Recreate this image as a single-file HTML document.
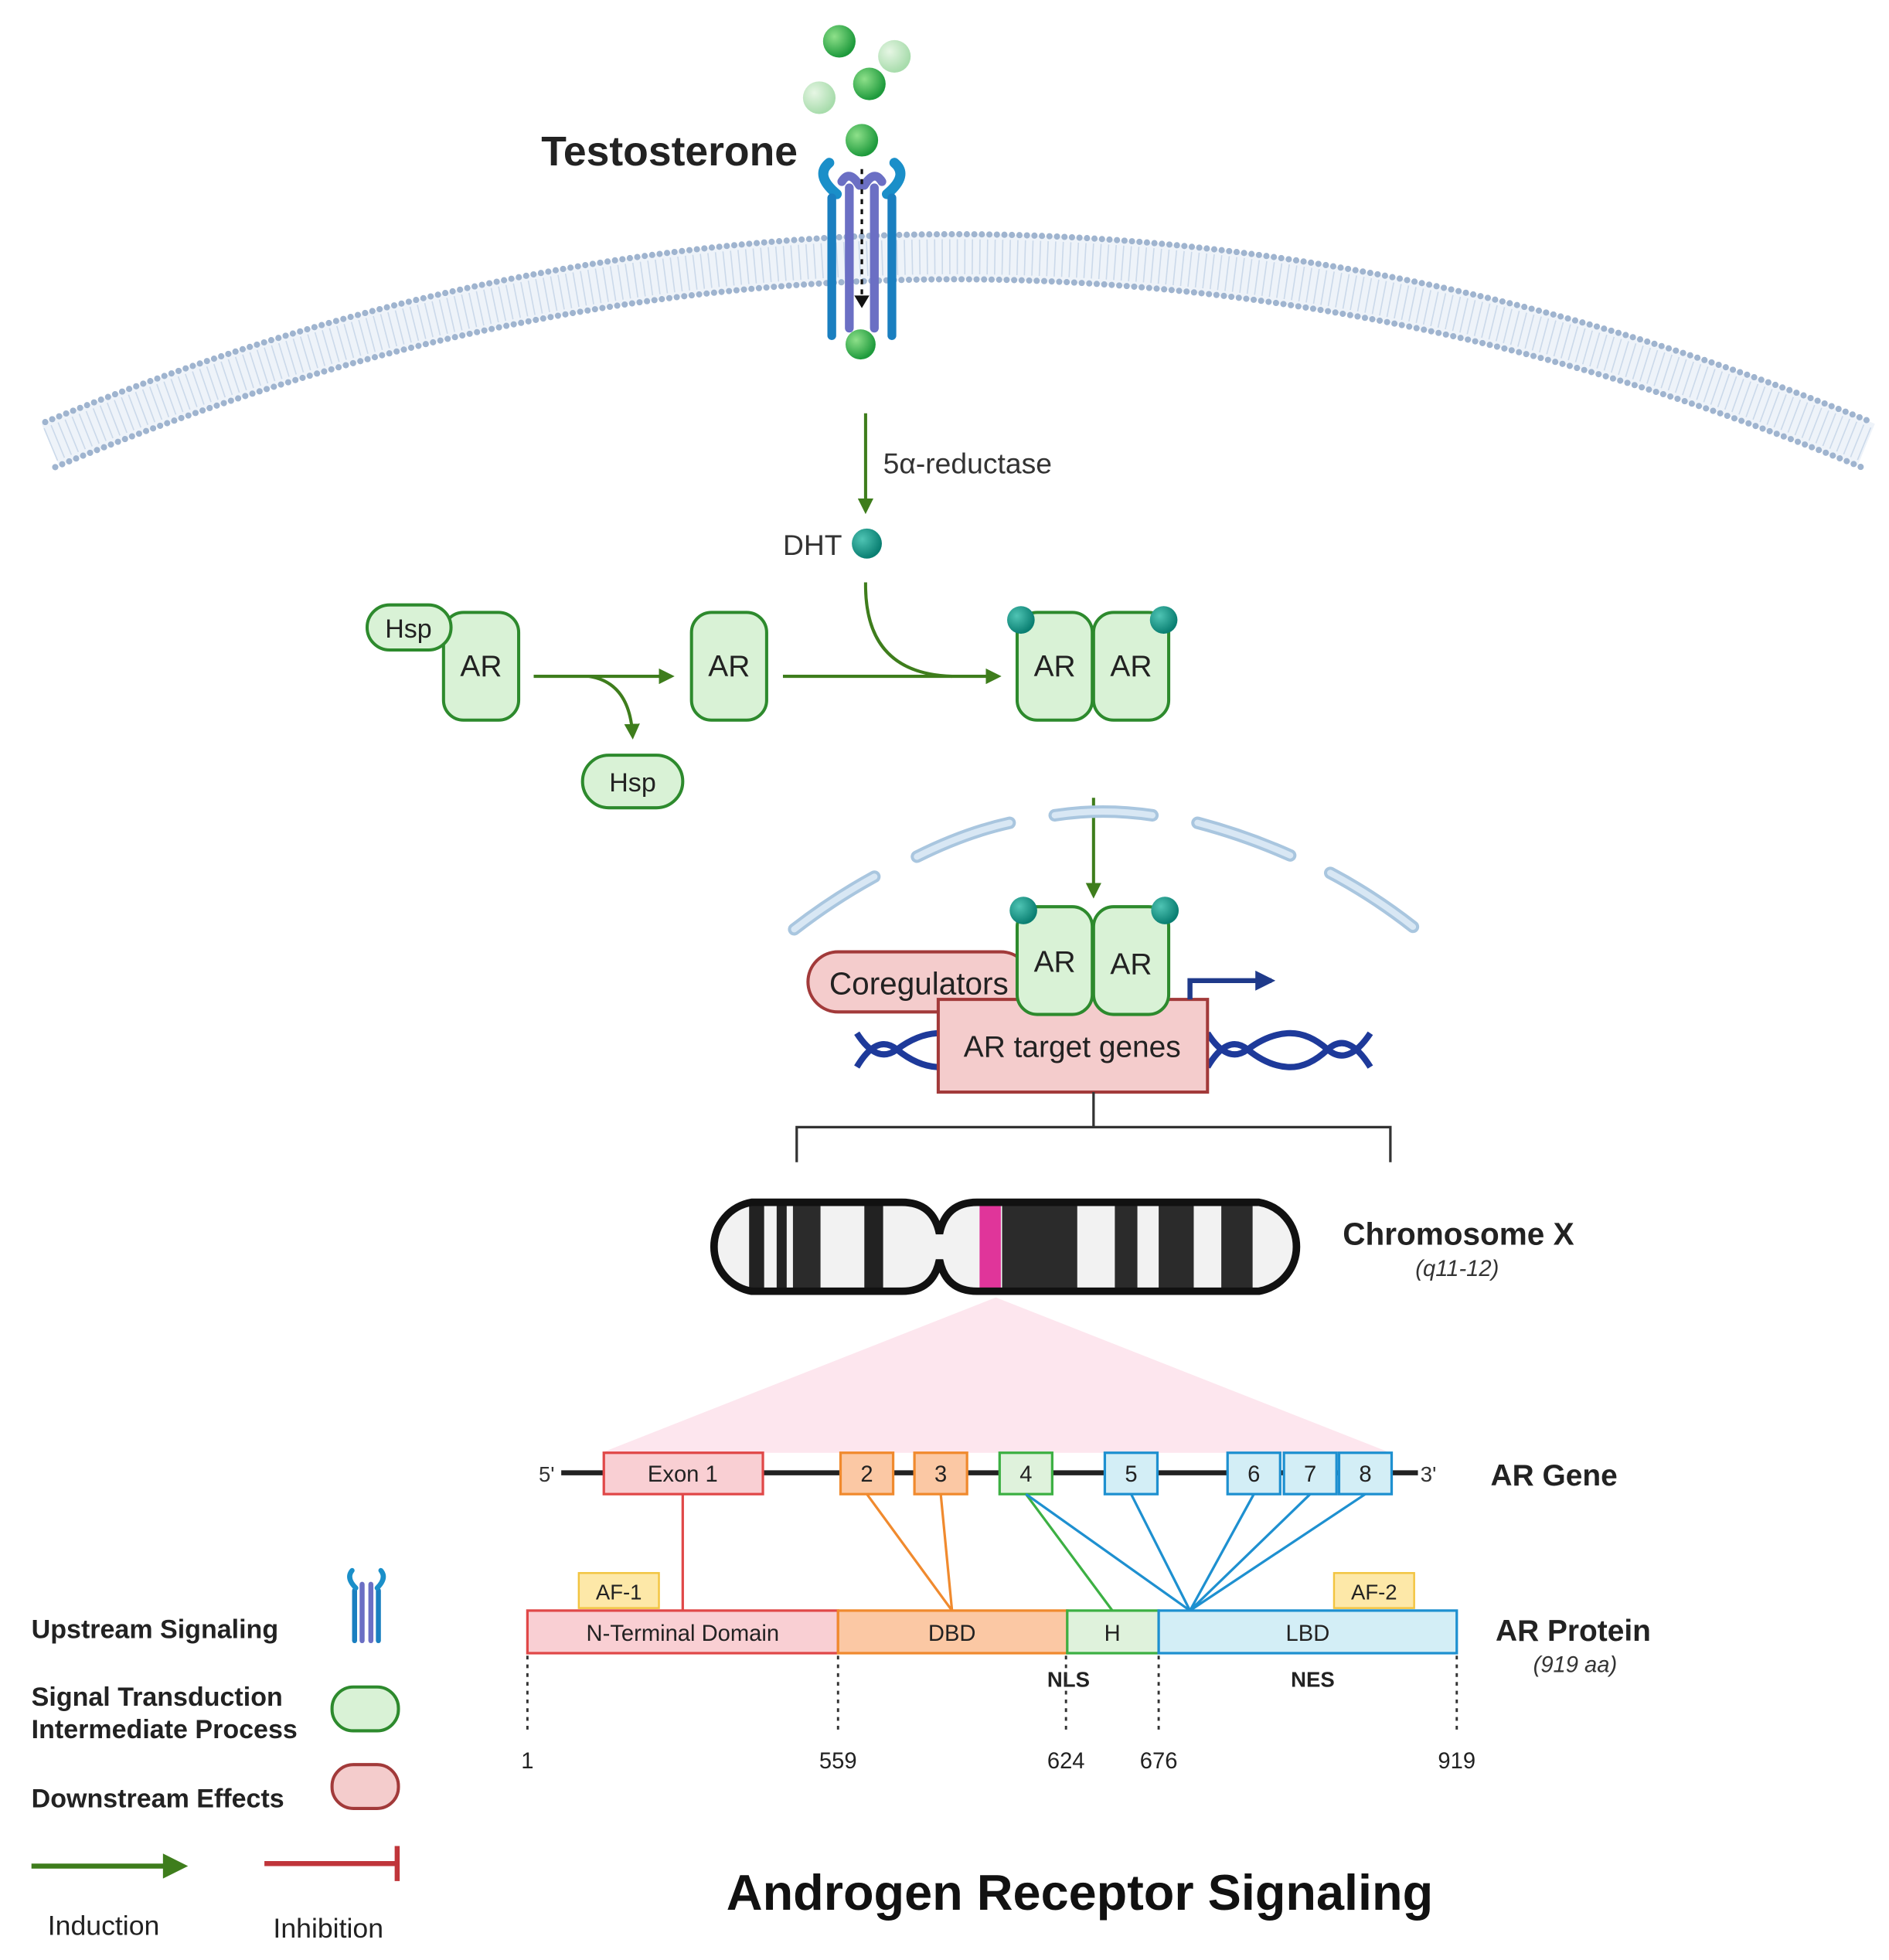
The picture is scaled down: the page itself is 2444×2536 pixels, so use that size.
<!DOCTYPE html>
<html><head><meta charset="utf-8"><style>
html,body{margin:0;padding:0;background:#fff}
svg{display:block}
text{font-family:"Liberation Sans",sans-serif}
</style></head><body>
<svg width="2444" height="2536" viewBox="0 0 1508 1565" xmlns="http://www.w3.org/2000/svg">
<defs>
<marker id="ga" viewBox="0 0 10 10" refX="8" refY="5" markerWidth="5" markerHeight="5" orient="auto"><path d="M0,0L10,5L0,10z" fill="#3e7d1c"/></marker>
<marker id="ba" viewBox="0 0 10 10" refX="8" refY="5" markerWidth="4" markerHeight="4" orient="auto"><path d="M0,0L10,5L0,10z" fill="#1f3a8a"/></marker>
<radialGradient id="gb" cx="35%" cy="35%" r="65%"><stop offset="0" stop-color="#8ee08a"/><stop offset="1" stop-color="#1e9a3c"/></radialGradient>
<radialGradient id="lb" cx="35%" cy="35%" r="65%"><stop offset="0" stop-color="#e6f6e4"/><stop offset="1" stop-color="#a8dcac"/></radialGradient>
<radialGradient id="tb" cx="35%" cy="35%" r="65%"><stop offset="0" stop-color="#4fc4b4"/><stop offset="1" stop-color="#0a7f72"/></radialGradient>
</defs>

<!-- membrane -->
<path d="M40,355 Q760,55 1490,355" fill="none" stroke="#eef3f9" stroke-width="36"/>
<path d="M40,355 Q760,55 1490,355" fill="none" stroke="#cbd9ea" stroke-width="28" stroke-dasharray="1 5"/>
<path d="M36,337 Q760,37 1494,337" fill="none" stroke="#9fb4cf" stroke-width="5" stroke-dasharray="0 6" stroke-linecap="round"/>
<path d="M44,373 Q760,73 1486,373" fill="none" stroke="#9fb4cf" stroke-width="5" stroke-dasharray="0 6" stroke-linecap="round"/>

<!-- testosterone balls -->
<circle cx="670" cy="33" r="13" fill="url(#gb)"/>
<circle cx="714" cy="45" r="13" fill="url(#lb)"/>
<circle cx="694" cy="67" r="13" fill="url(#gb)"/>
<circle cx="654" cy="78" r="13" fill="url(#lb)"/>
<circle cx="688" cy="112" r="13" fill="url(#gb)"/>
<text x="432" y="132" font-size="33" font-weight="bold" fill="#222">Testosterone</text>

<!-- receptor -->
<g fill="none" stroke-linecap="round">
<path d="M668,155 Q650,140 662,130" stroke="#1a8fc9" stroke-width="8"/>
<path d="M708,155 Q726,140 714,130" stroke="#1a8fc9" stroke-width="8"/>
<line x1="664" y1="158" x2="664" y2="268" stroke="#1a7fc0" stroke-width="7"/>
<line x1="712" y1="158" x2="712" y2="268" stroke="#1a7fc0" stroke-width="7"/>
<line x1="678" y1="150" x2="678" y2="262" stroke="#6b6fc4" stroke-width="7"/>
<line x1="698" y1="150" x2="698" y2="262" stroke="#6b6fc4" stroke-width="7"/>
<path d="M672,145 Q678,135 686,148" stroke="#6b6fc4" stroke-width="7"/>
<path d="M704,145 Q698,135 690,148" stroke="#6b6fc4" stroke-width="7"/>
</g>
<line x1="688" y1="135" x2="688" y2="240" stroke="#111" stroke-width="2" stroke-dasharray="4 4"/>
<path d="M682,236L694,236L688,246z" fill="#111"/>
<circle cx="687" cy="275" r="12" fill="url(#gb)"/>

<!-- 5a reductase -->
<line x1="691" y1="330" x2="691" y2="408" stroke="#3e7d1c" stroke-width="2.5" marker-end="url(#ga)"/>
<text x="705" y="378" font-size="23" fill="#333">5α-reductase</text>
<text x="625" y="443" font-size="23" fill="#333">DHT</text>
<circle cx="692" cy="434" r="12" fill="url(#tb)"/>

<!-- AR row -->
<g stroke="#2d8a2d" stroke-width="2.5" fill="#d9f2d6">
<rect x="354" y="489" width="60" height="86" rx="16"/>
<rect x="293" y="483" width="67" height="36" rx="18"/>
<rect x="552" y="489" width="60" height="86" rx="16"/>
<rect x="812" y="489" width="60" height="86" rx="16"/>
<rect x="873" y="489" width="60" height="86" rx="16"/>
<rect x="465" y="603" width="80" height="42" rx="21"/>
</g>
<g font-size="24" fill="#222" text-anchor="middle">
<text x="384" y="540">AR</text><text x="326" y="509" font-size="21">Hsp</text>
<text x="582" y="540">AR</text><text x="842" y="540">AR</text><text x="903" y="540">AR</text>
<text x="505" y="632" font-size="21">Hsp</text>
</g>
<circle cx="815" cy="495" r="11" fill="url(#tb)"/>
<circle cx="929" cy="495" r="11" fill="url(#tb)"/>
<g stroke="#3e7d1c" stroke-width="2.5" fill="none">
<line x1="426" y1="540" x2="536" y2="540" marker-end="url(#ga)"/>
<path d="M470,540 Q503,545 505,588" marker-end="url(#ga)"/>
<line x1="625" y1="540" x2="797" y2="540" marker-end="url(#ga)"/>
<path d="M691,465 Q690,538 760,540"/>
<line x1="873" y1="637" x2="873" y2="715" marker-end="url(#ga)"/>
</g>

<!-- nucleus -->
<g fill="none" stroke="#a9c6df" stroke-width="10" stroke-linecap="round">
<path d="M634,742 Q665,718 698,700"/>
<path d="M732,684 Q770,665 806,657"/>
<path d="M842,651 Q880,645 920,651"/>
<path d="M956,657 Q994,667 1030,683"/>
<path d="M1062,697 Q1096,715 1128,740"/>
</g>
<g fill="none" stroke="#d8e7f4" stroke-width="5" stroke-linecap="round">
<path d="M634,742 Q665,718 698,700"/>
<path d="M732,684 Q770,665 806,657"/>
<path d="M842,651 Q880,645 920,651"/>
<path d="M956,657 Q994,667 1030,683"/>
<path d="M1062,697 Q1096,715 1128,740"/>
</g>

<!-- DNA -->
<g fill="none" stroke="#1e3a9a" stroke-width="5">
<path d="M684,825 Q700,850 716,838 T748,825"/>
<path d="M684,852 Q700,825 716,838 T748,852"/>
<path d="M964,825 Q980,850 996,838 T1028,825 T1060,838 T1094,825"/>
<path d="M964,852 Q980,825 996,838 T1028,852 T1060,838 T1094,852"/>
</g>
<rect x="645" y="760" width="178" height="48" rx="24" fill="#f4cccc" stroke="#a23a3a" stroke-width="2.5"/>
<text x="662" y="794" font-size="25" fill="#222">Coregulators</text>
<rect x="749" y="798" width="215" height="74" fill="#f4cccc" stroke="#a23a3a" stroke-width="2.5"/>
<text x="856" y="844" font-size="24" fill="#222" text-anchor="middle">AR target genes</text>
<g stroke="#2d8a2d" stroke-width="2.5" fill="#d9f2d6">
<rect x="812" y="724" width="60" height="86" rx="16"/>
<rect x="873" y="724" width="60" height="86" rx="16"/>
</g>
<text x="842" y="776" font-size="24" text-anchor="middle" fill="#222">AR</text>
<text x="903" y="778" font-size="24" text-anchor="middle" fill="#222">AR</text>
<circle cx="817" cy="727" r="11" fill="url(#tb)"/>
<circle cx="930" cy="727" r="11" fill="url(#tb)"/>
<path d="M950,798 L950,783 L1015,783" fill="none" stroke="#1f3a8a" stroke-width="4" marker-end="url(#ba)"/>

<!-- bracket -->
<path d="M873,872 V900 M636,928 V900 H1110 V928" fill="none" stroke="#333" stroke-width="2"/>

<!-- chromosome -->
<defs><clipPath id="cl"><path d="M600,960 H720 Q745,960 750,985 Q755,960 780,960 H1005 A36,36 0 0 1 1005,1031 H780 Q755,1031 750,1006 Q745,1031 720,1031 H600 A36,36 0 0 1 600,960z"/></clipPath></defs>
<g clip-path="url(#cl)">
<rect x="560" y="955" width="490" height="80" fill="#f2f2f2"/>
<rect x="598" y="955" width="12" height="80" fill="#222"/>
<rect x="620" y="955" width="8" height="80" fill="#222"/>
<rect x="633" y="955" width="22" height="80" fill="#2b2b2b"/>
<rect x="690" y="955" width="15" height="80" fill="#222"/>
<rect x="782" y="955" width="17" height="80" fill="#e0359a"/>
<rect x="800" y="955" width="60" height="80" fill="#2b2b2b"/>
<rect x="890" y="955" width="18" height="80" fill="#2b2b2b"/>
<rect x="925" y="955" width="28" height="80" fill="#2b2b2b"/>
<rect x="975" y="955" width="25" height="80" fill="#2b2b2b"/>
</g>
<path d="M600,960 H720 Q745,960 750,985 Q755,960 780,960 H1005 A36,36 0 0 1 1005,1031 H780 Q755,1031 750,1006 Q745,1031 720,1031 H600 A36,36 0 0 1 600,960z" fill="none" stroke="#111" stroke-width="6"/>
<text x="1072" y="994" font-size="25" font-weight="bold" fill="#222">Chromosome X</text>
<text x="1130" y="1019" font-size="18" font-style="italic" fill="#333">(q11-12)</text>

<!-- pink triangle -->
<path d="M795,1036 L480,1160 L1110,1160z" fill="#fde6ee"/>

<!-- gene line -->
<line x1="448" y1="1176" x2="1132" y2="1176" stroke="#222" stroke-width="4"/>
<text x="430" y="1183" font-size="17" fill="#333">5'</text>
<text x="1134" y="1183" font-size="17" fill="#333">3'</text>
<text x="1190" y="1186" font-size="24" font-weight="bold" fill="#222">AR Gene</text>
<g stroke-width="2">
<rect x="482" y="1160" width="127" height="33" fill="#f9cfd3" stroke="#e04848"/>
<rect x="671" y="1160" width="42" height="33" fill="#fbc8a4" stroke="#f08a2e"/>
<rect x="730" y="1160" width="42" height="33" fill="#fbc8a4" stroke="#f08a2e"/>
<rect x="798" y="1160" width="42" height="33" fill="#dff2dc" stroke="#3cb043"/>
<rect x="882" y="1160" width="42" height="33" fill="#d3eef6" stroke="#1e90d0"/>
<rect x="980" y="1160" width="42" height="33" fill="#d3eef6" stroke="#1e90d0"/>
<rect x="1025" y="1160" width="42" height="33" fill="#d3eef6" stroke="#1e90d0"/>
<rect x="1069" y="1160" width="42" height="33" fill="#d3eef6" stroke="#1e90d0"/>
</g>
<g font-size="18" fill="#222" text-anchor="middle">
<text x="545" y="1183">Exon 1</text><text x="692" y="1183">2</text><text x="751" y="1183">3</text>
<text x="819" y="1183">4</text><text x="903" y="1183">5</text><text x="1001" y="1183">6</text>
<text x="1046" y="1183">7</text><text x="1090" y="1183">8</text>
</g>
<!-- connectors -->
<g stroke-width="2" fill="none">
<line x1="545" y1="1193" x2="545" y2="1286" stroke="#e04848"/>
<path d="M692,1193 L760,1286 M751,1193 L760,1286" stroke="#f08a2e"/>
<line x1="819" y1="1193" x2="888" y2="1286" stroke="#3cb043"/>
<path d="M819,1193 L950,1286 M903,1193 L950,1286 M1001,1193 L950,1286 M1046,1193 L950,1286 M1090,1193 L950,1286" stroke="#1e90d0"/>
</g>
<!-- protein -->
<rect x="462" y="1256" width="64" height="28" fill="#fde8a8" stroke="#f2c440" stroke-width="1.5"/>
<text x="494" y="1277" font-size="17" text-anchor="middle" fill="#222">AF-1</text>
<rect x="1065" y="1256" width="64" height="28" fill="#fde8a8" stroke="#f2c440" stroke-width="1.5"/>
<text x="1097" y="1277" font-size="17" text-anchor="middle" fill="#222">AF-2</text>
<g stroke-width="2">
<rect x="421" y="1286" width="248" height="34" fill="#f9cfd3" stroke="#e04848"/>
<rect x="669" y="1286" width="183" height="34" fill="#fbc8a4" stroke="#f08a2e"/>
<rect x="852" y="1286" width="73" height="34" fill="#dff2dc" stroke="#3cb043"/>
<rect x="925" y="1286" width="238" height="34" fill="#d3eef6" stroke="#1e90d0"/>
</g>
<g font-size="18" fill="#222" text-anchor="middle">
<text x="545" y="1310">N-Terminal Domain</text><text x="760" y="1310">DBD</text>
<text x="888" y="1310">H</text><text x="1044" y="1310">LBD</text>
</g>
<g font-size="17" font-weight="bold" fill="#222" text-anchor="middle">
<text x="853" y="1347">NLS</text><text x="1048" y="1347">NES</text>
</g>
<text x="1194" y="1310" font-size="24" font-weight="bold" fill="#222">AR Protein</text>
<text x="1224" y="1335" font-size="18" font-style="italic" fill="#333">(919 aa)</text>
<g stroke="#333" stroke-width="1.8" stroke-dasharray="3 4">
<line x1="421" y1="1322" x2="421" y2="1385"/><line x1="669" y1="1322" x2="669" y2="1385"/>
<line x1="851" y1="1322" x2="851" y2="1385"/><line x1="925" y1="1322" x2="925" y2="1385"/>
<line x1="1163" y1="1322" x2="1163" y2="1385"/>
</g>
<g font-size="18" fill="#222" text-anchor="middle">
<text x="421" y="1412">1</text><text x="669" y="1412">559</text><text x="851" y="1412">624</text>
<text x="925" y="1412">676</text><text x="1163" y="1412">919</text>
</g>

<!-- legend -->
<g font-size="21" font-weight="bold" fill="#222">
<text x="25" y="1308">Upstream Signaling</text>
<text x="25" y="1362">Signal Transduction</text>
<text x="25" y="1388">Intermediate Process</text>
<text x="25" y="1443">Downstream Effects</text>
</g>
<g fill="none" stroke-linecap="round">
<line x1="283" y1="1270" x2="283" y2="1310" stroke="#1a7fc0" stroke-width="4"/>
<line x1="302" y1="1270" x2="302" y2="1310" stroke="#1a7fc0" stroke-width="4"/>
<line x1="289" y1="1265" x2="289" y2="1310" stroke="#6b6fc4" stroke-width="4"/>
<line x1="296" y1="1265" x2="296" y2="1310" stroke="#6b6fc4" stroke-width="4"/>
<path d="M284,1268 Q276,1260 281,1254 M301,1268 Q309,1260 304,1254" stroke="#1a8fc9" stroke-width="4"/>
</g>
<rect x="265" y="1347" width="53" height="35" rx="17" fill="#d9f2d6" stroke="#2d8a2d" stroke-width="2.5"/>
<rect x="265" y="1409" width="53" height="35" rx="17" fill="#f4cccc" stroke="#a23a3a" stroke-width="2.5"/>
<line x1="25" y1="1490" x2="135" y2="1490" stroke="#3e7d1c" stroke-width="4"/>
<path d="M130,1480 L150,1490 L130,1500z" fill="#3e7d1c"/>
<line x1="211" y1="1488" x2="317" y2="1488" stroke="#c0353a" stroke-width="4"/>
<line x1="317" y1="1474" x2="317" y2="1502" stroke="#c0353a" stroke-width="4"/>
<text x="38" y="1545" font-size="22" fill="#222">Induction</text>
<text x="218" y="1547" font-size="22" fill="#222">Inhibition</text>

<text x="862" y="1525" font-size="40" font-weight="bold" fill="#111" text-anchor="middle">Androgen Receptor Signaling</text>
</svg>
</body></html>
